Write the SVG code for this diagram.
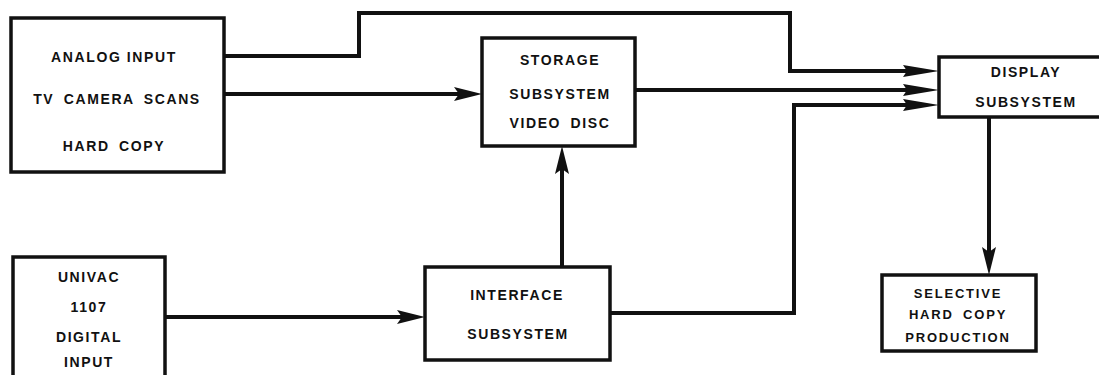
<svg xmlns="http://www.w3.org/2000/svg" width="1099" height="375" viewBox="0 0 1099 375">
<style>
.box{fill:#fff;stroke:#111;stroke-width:3.5}
.t{font-family:"Liberation Sans",Arial,sans-serif;font-weight:bold;font-size:14px;letter-spacing:1.6px;fill:#111;text-anchor:middle}
.s{font-size:13px;letter-spacing:1.8px}
.w{word-spacing:4px}
.c{fill:none;stroke:#111;stroke-width:4;stroke-linejoin:miter}
</style>
<defs>
<marker id="ah" markerUnits="userSpaceOnUse" markerWidth="30" markerHeight="16" refX="10" refY="7" orient="auto" viewBox="0 0 30 14">
<path d="M0,0 L28,7 L0,14 L5,7 z" fill="#111"/>
</marker>
<marker id="ahl" markerUnits="userSpaceOnUse" markerWidth="38" markerHeight="14" refX="12" refY="6" orient="auto" viewBox="0 0 38 12">
<path d="M0,0 L36,6 L0,12 L4,6 z" fill="#111"/>
</marker>
</defs>
<rect width="1099" height="375" fill="#fff"/>
<g id="connectors">
<path class="c" d="M224,56 H359 V13 H790 V71 H915" marker-end="url(#ahl)"/>
<path class="c" d="M224,94 H464" marker-end="url(#ah)"/>
<path class="c" d="M635,90 H915" marker-end="url(#ahl)"/>
<path class="c" d="M610,313 H794 V105 H915" marker-end="url(#ahl)"/>
<path class="c" d="M165,317 H407" marker-end="url(#ah)"/>
<path class="c" d="M562,267 V164" marker-end="url(#ah)"/>
<path class="c" d="M989,117 V257" marker-end="url(#ah)"/>
</g>
<g id="analog">
<rect class="box" x="11" y="18" width="213" height="154"/>
<text class="t" x="114" y="62">ANALOG INPUT</text>
<text class="t w" x="117" y="104">TV CAMERA SCANS</text>
<text class="t w" x="114" y="151">HARD COPY</text>
</g>
<g id="storage">
<rect class="box" x="482" y="38" width="153" height="108"/>
<text class="t" x="560" y="65">STORAGE</text>
<text class="t" x="560" y="99">SUBSYSTEM</text>
<text class="t w" x="560" y="128">VIDEO DISC</text>
</g>
<g id="display">
<rect class="box" x="939" y="57" width="180" height="60"/>
<text class="t" x="1026" y="77">DISPLAY</text>
<text class="t" x="1026" y="107">SUBSYSTEM</text>
</g>
<g id="univac">
<rect class="box" x="13" y="257" width="152" height="130"/>
<text class="t" x="89" y="282">UNIVAC</text>
<text class="t" x="89" y="312">1107</text>
<text class="t" x="89" y="342">DIGITAL</text>
<text class="t" x="89" y="367">INPUT</text>
</g>
<g id="interface">
<rect class="box" x="425" y="267" width="185" height="93"/>
<text class="t" x="517" y="300">INTERFACE</text>
<text class="t" x="518" y="339">SUBSYSTEM</text>
</g>
<g id="selective">
<rect class="box" x="882" y="275" width="154" height="76"/>
<text class="t s" x="958" y="298">SELECTIVE</text>
<text class="t s w" x="958" y="319">HARD COPY</text>
<text class="t s" x="958" y="342">PRODUCTION</text>
</g>
</svg>
